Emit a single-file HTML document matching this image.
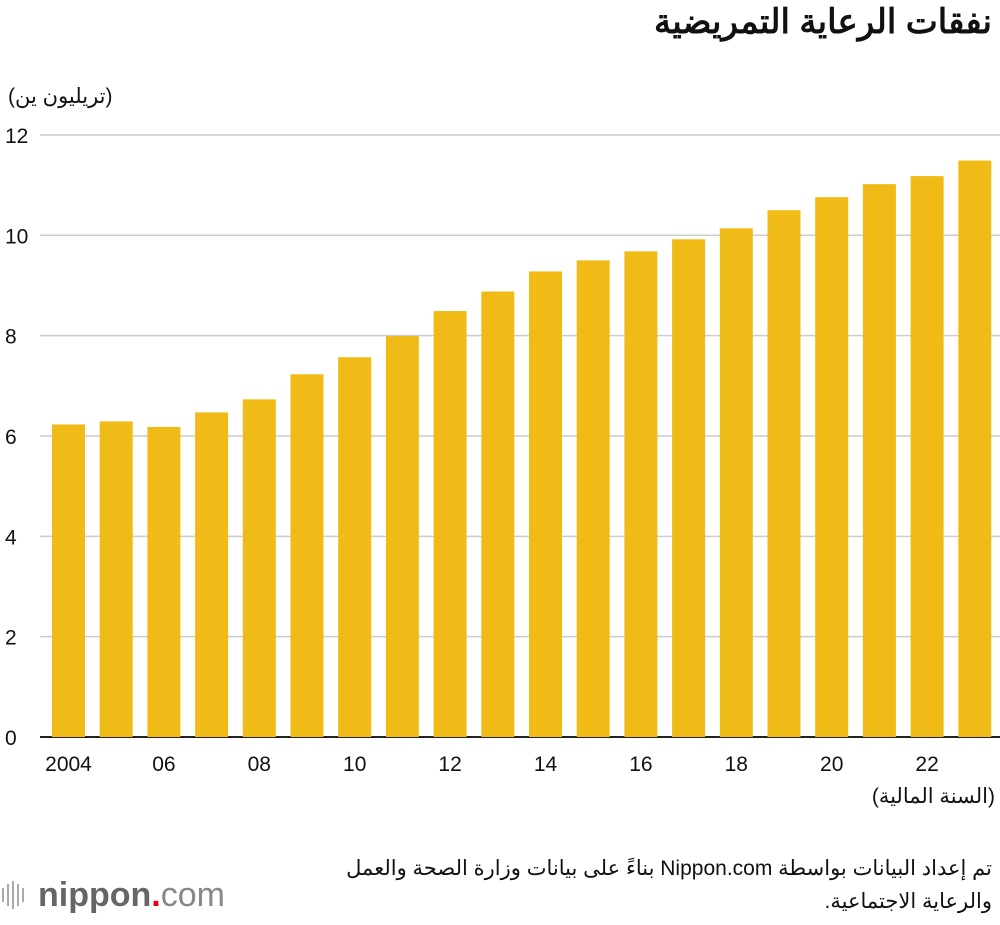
<!DOCTYPE html>
<html><head><meta charset="utf-8"><style>
body{margin:0;background:#fff;width:1000px;height:920px;overflow:hidden;font-family:"Liberation Sans","Noto Sans CJK SC",sans-serif;}
</style></head><body>
<svg width="1000" height="920" xmlns="http://www.w3.org/2000/svg">
<text x="992" y="33" text-anchor="start" direction="rtl" font-size="34" font-weight="bold" fill="#111">نفقات الرعاية التمريضية</text>
<text x="8" y="103" text-anchor="start" font-size="21" fill="#111">(تريليون ين)</text>
<g id="grid"></g><g id="bars"></g><g id="xl"></g>
<text x="995" y="803" text-anchor="end" font-size="21" fill="#111">(السنة المالية)</text>
<text x="992" y="875" text-anchor="start" direction="rtl" font-size="21" fill="#111">تم إعداد البيانات بواسطة Nippon.com بناءً على بيانات وزارة الصحة والعمل</text>
<text x="992" y="908" text-anchor="start" direction="rtl" font-size="21" fill="#111">والرعاية الاجتماعية.</text>
<g>
<rect x="2" y="888" width="2" height="14" fill="#aaa"/><rect x="7" y="884" width="2" height="22" fill="#aaa"/><rect x="12" y="881" width="2" height="28" fill="#aaa"/><rect x="17" y="884" width="2" height="22" fill="#aaa"/><rect x="22" y="888" width="2" height="14" fill="#aaa"/>
<text x="38" y="906" font-size="34" fill="#666"><tspan font-weight="bold">nippon</tspan><tspan fill="#e60012" font-weight="bold">.</tspan><tspan fill="#888">com</tspan></text>
</g>
</svg>
<script>
const years=["2004","2005","2006","2007","2008","2009","2010","2011","2012","2013","2014","2015","2016","2017","2018","2019","2020","2021","2022","2023"];
const values=[6.23,6.29,6.18,6.47,6.73,7.23,7.57,7.99,8.49,8.88,9.28,9.50,9.68,9.92,10.14,10.50,10.76,11.02,11.18,11.49];
const xLabels=["2004","","06","","08","","10","","12","","14","","16","","18","","20","","22",""];
const yTicks=[0,2,4,6,8,10,12];
const NS="http://www.w3.org/2000/svg";
const y0=737,yPer=50.17;
const y=v=>y0-v*yPer;
const x=i=>52+i*47.7;
const bw=33;
function mk(t,a,p){const e=document.createElementNS(NS,t);for(const k in a)e.setAttribute(k,a[k]);p.appendChild(e);return e;}
const g=document.getElementById('grid');
yTicks.forEach(t=>{
 const l=mk('line',{x1:40,x2:1000,y1:y(t),y2:y(t),stroke:t===0?'#222':'#ccc','stroke-width':t===0?2:1.5},g);
 
 
 const tx=mk('text',{x:5,y:y(t)+8,'font-size':21,fill:'#111'},g);
 tx.textContent=t;
 
 
});
const b=document.getElementById('bars');
values.forEach((v,i)=>{
 const r=mk('rect',{x:x(i),y:y(v),width:bw,height:y0-y(v),fill:'#f0bb16'},b);
 
 
});
const xl=document.getElementById('xl');
xLabels.forEach((s,i)=>{if(!s)return;
 const t=mk('text',{x:x(i)+bw/2,y:771,'text-anchor':'middle','font-size':21,fill:'#111'},xl);
 t.textContent=s;
 
 
});
</script>
</body></html>
